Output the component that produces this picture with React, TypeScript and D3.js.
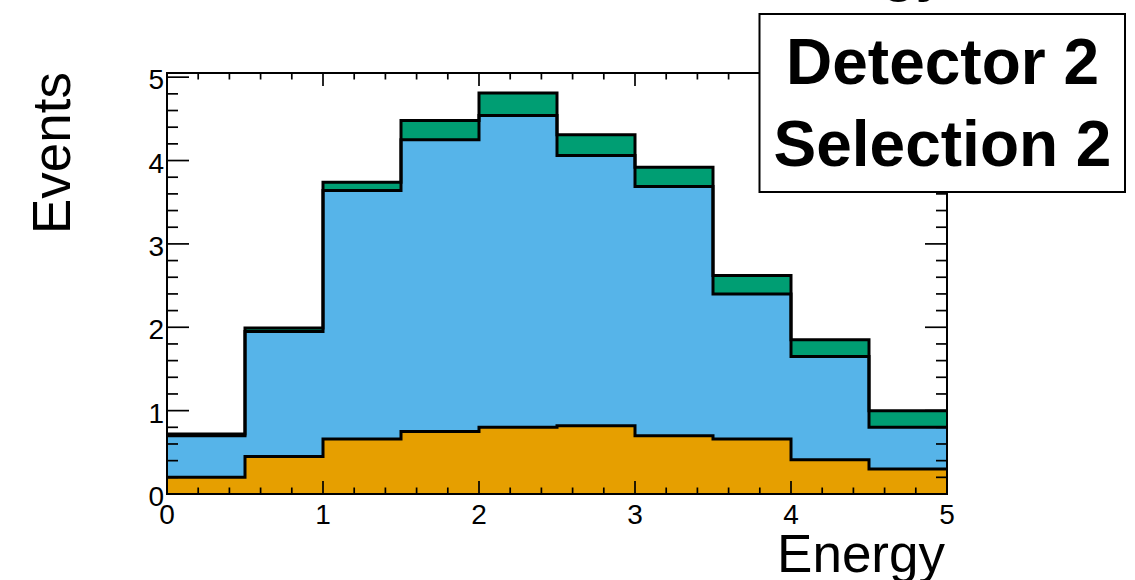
import React from "react";
import * as d3 from "d3";

// Bin edges of the energy histogram (10 bins of width 0.5)
const binEdges = [0, 0.5, 1, 1.5, 2, 2.5, 3, 3.5, 4, 4.5, 5];

// Stacked components, bottom to top
const orangeCounts = [0.2, 0.45, 0.66, 0.75, 0.8, 0.82, 0.7, 0.66, 0.41, 0.3];
const blueCounts = [0.5, 1.5, 2.98, 3.5, 3.74, 3.24, 2.99, 1.74, 1.24, 0.5];
const greenCounts = [0.02, 0.04, 0.1, 0.23, 0.27, 0.25, 0.23, 0.22, 0.2, 0.2];

const seriesKeys = ["orange", "blue", "green"];
const seriesColors = ["#E69F00", "#56B4E9", "#009E73"];

const xTickValues = [0, 1, 2, 3, 4, 5];
const yTickValues = [0, 1, 2, 3, 4, 5];

const legendLines = ["Detector 2", "Selection 2"];
const histTitle = "Energy";
const xTitle = "Energy";
const yTitle = "Events";

const W = 1135;
const H = 580;
const frame = { left: 167, right: 947, top: 73, bottom: 494 };
const FONT = "'Liberation Sans', Arial, Helvetica, sans-serif";

export default function App() {
  const x = d3.scaleLinear().domain([0, 5]).range([frame.left, frame.right]);
  const y = d3.scaleLinear().domain([0, 5.05]).range([frame.bottom, frame.top]);

  const rows = orangeCounts.map((_, i) => ({
    orange: orangeCounts[i],
    blue: blueCounts[i],
    green: greenCounts[i],
  }));
  const stacked = d3.stack<any>().keys(seriesKeys)(rows);

  // For each layer: points at bin low edges plus the closing upper edge
  const layerPoints = stacked.map((layer) => {
    const pts = layer.map((d, i) => ({ x: binEdges[i], y0: d[0], y1: d[1] }));
    const last = pts[pts.length - 1];
    pts.push({ x: binEdges[binEdges.length - 1], y0: last.y0, y1: last.y1 });
    return pts;
  });

  const area = d3
    .area<any>()
    .x((d) => x(d.x))
    .y0((d) => y(d.y0))
    .y1((d) => y(d.y1))
    .curve(d3.curveStepAfter);

  const line = d3
    .line<any>()
    .x((d) => x(d.x))
    .y((d) => y(d.y1))
    .curve(d3.curveStepAfter);

  const xMinor = x.ticks(25);
  const yMinor = y.ticks(25).filter((v) => v <= 5.0001);

  const tickStroke = { stroke: "#000", strokeWidth: 1.7 };

  return (
    <svg
      width={W}
      height={H}
      style={{ position: "fixed", left: 0, top: 0, background: "#fff" }}
      fontFamily={FONT}
    >
      <rect x={0} y={0} width={W} height={H} fill="#fff" />

      {/* histogram title, mostly above the canvas */}
      <text
        x={853}
        y={-10}
        textAnchor="middle"
        fontSize={55}
        fontWeight="bold"
        fill="#000"
      >
        {histTitle}
      </text>

      {/* stacked fills */}
      {layerPoints.map((pts, i) => (
        <path key={"a" + i} d={area(pts) || ""} fill={seriesColors[i]} />
      ))}
      {/* outlines of each cumulative level */}
      {layerPoints.map((pts, i) => (
        <path
          key={"l" + i}
          d={line(pts) || ""}
          fill="none"
          stroke="#000"
          strokeWidth={3}
          strokeLinejoin="miter"
        />
      ))}

      {/* frame */}
      <rect
        x={frame.left}
        y={frame.top}
        width={frame.right - frame.left}
        height={frame.bottom - frame.top}
        fill="none"
        stroke="#000"
        strokeWidth={2}
      />

      {/* x ticks, bottom and top */}
      {xMinor.map((v) => {
        const major = Math.abs(v - Math.round(v)) < 1e-6;
        const len = major ? 13 : 6.5;
        return (
          <g key={"xt" + v}>
            <line x1={x(v)} x2={x(v)} y1={frame.bottom} y2={frame.bottom - len} {...tickStroke} />
            <line x1={x(v)} x2={x(v)} y1={frame.top} y2={frame.top + len} {...tickStroke} />
          </g>
        );
      })}

      {/* y ticks, left and right */}
      {yMinor.map((v) => {
        const major = Math.abs(v - Math.round(v)) < 1e-6;
        const len = major ? 22 : 11;
        return (
          <g key={"yt" + v}>
            <line x1={frame.left} x2={frame.left + len} y1={y(v)} y2={y(v)} {...tickStroke} />
            <line x1={frame.right} x2={frame.right - len} y1={y(v)} y2={y(v)} {...tickStroke} />
          </g>
        );
      })}

      {/* tick labels */}
      {xTickValues.map((v) => (
        <text key={"xl" + v} x={x(v)} y={frame.bottom + 30} textAnchor="middle" fontSize={28} fill="#000">
          {v}
        </text>
      ))}
      {yTickValues.map((v) => (
        <text key={"yl" + v} x={frame.left - 3} y={y(v) + 12} textAnchor="end" fontSize={28} fill="#000">
          {v}
        </text>
      ))}

      {/* axis titles */}
      <text x={945} y={572} textAnchor="end" fontSize={53} fill="#000">
        {xTitle}
      </text>
      <text
        transform="translate(70,72) rotate(-90)"
        textAnchor="end"
        fontSize={53}
        fill="#000"
      >
        {yTitle}
      </text>

      {/* legend box */}
      <rect x={759.5} y={14} width={1125 - 759.5} height={192 - 14} fill="#fff" stroke="#000" strokeWidth={2} />
      {legendLines.map((t, i) => (
        <text
          key={"lg" + i}
          x={942.5}
          y={84 + i * 82}
          textAnchor="middle"
          fontSize={64}
          fontWeight="bold"
          fill="#000"
        >
          {t}
        </text>
      ))}
    </svg>
  );
}
